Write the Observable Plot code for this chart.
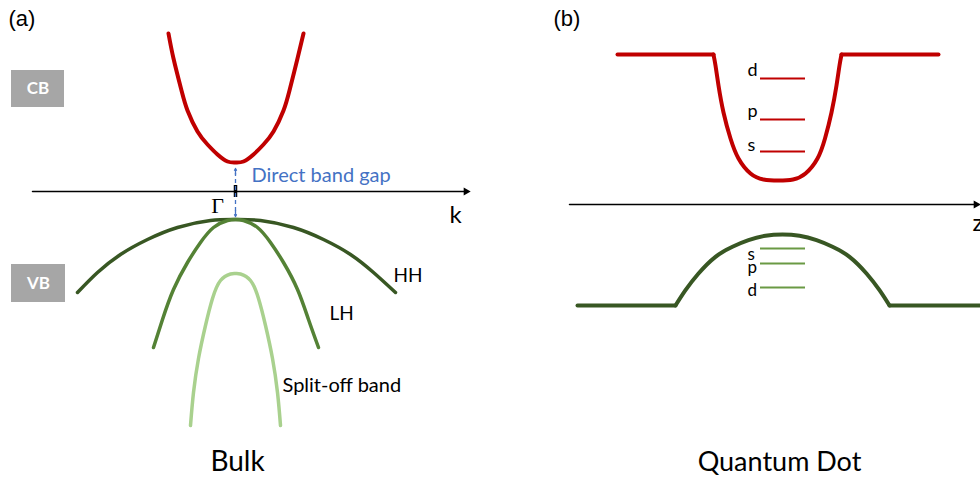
<!DOCTYPE html>
<html><head><meta charset="utf-8">
<script src="https://cdn.jsdelivr.net/npm/d3@7"></script>
<script src="https://cdn.jsdelivr.net/npm/@observablehq/plot@0.6"></script>
<style>
html,body{margin:0;padding:0;background:#fff;}
#wrap{display:flex;width:980px;height:478px;overflow:hidden;}
#wrap svg{display:block;flex:none;}
</style></head><body><div id="wrap"></div>
<script>
// ---------- Panel (a): Bulk band structure (k in arbitrary units, E in arbitrary units) ----------
const cbK = [-6.7,-6.2,-5.4,-4.8,-3.8,-2.8,-1.8,-0.8,0,0.8,1.8,2.8,3.8,4.8,5.4,6.2,6.8];
const cbE = [15.8,13.3,10.1,8.1,6.0,4.7,3.7,3.0,2.9,3.0,3.7,4.7,6.0,8.1,10.1,13.3,15.8];
const hhK = [-15.8,-13.8,-11.5,-8.8,-5.8,-2.5,0,2.5,5.8,8.8,11.5,13.8,16.0];
const hhE = [-10.1,-8.1,-6.3,-4.8,-3.6,-2.9,-2.8,-2.9,-3.6,-4.8,-6.3,-8.1,-10.1];
const lhK = [-8.2,-7.3,-6.2,-4.8,-3.5,-2.2,-0.8,0,0.8,2.2,3.5,4.8,6.2,7.3,8.3];
const lhE = [-15.6,-12.8,-9.8,-7.1,-5.1,-3.6,-2.9,-2.8,-2.9,-3.6,-5.1,-7.1,-9.8,-12.8,-15.6];
const soK = [-4.5,-4.2,-3.7,-3.0,-2.3,-1.5,-0.5,0,0.5,1.5,2.3,3.0,3.7,4.2,4.5];
const soE = [-23.4,-20.1,-16.7,-13.4,-10.7,-8.9,-8.25,-8.2,-8.25,-8.9,-10.7,-13.4,-16.7,-20.1,-23.4];
const bandNames = ["CB","HH","LH","Split-off"];
const bandColors = ["#c00000","#385723","#548235","#a9d18e"];
const bandWidths = [4,3.5,3.5,3.5];
const gapTop = 2.3, gapBottom = -2.5;          // direct band gap arrow ends
const kAxis = [-20.3, 23.5];                    // k axis extent
const aLabels = ["HH","LH","Split-off band"];
const aLabelK = [15.8, 9.4, 4.7];
const aLabelE = [-8.4, -12.2, -19.4];
const aLabelSize = [19, 19, 20];
const aBoxes = ["CB","VB"];
const aBoxK1 = [-22.4,-22.4], aBoxK2 = [-17.1,-17.0];
const aBoxE1 = [8.4,-11.1], aBoxE2 = [12.1,-7.3];

// ---------- Panel (b): Quantum dot (z position, E) ----------
const qcbFlatL = [[-16.1,15.0],[-6.5,15.0]];
const qcbFlatR = [[6.3,15.0],[16.0,15.0]];
const qcbZ = [-6.5,-6.3,-6.0,-5.5,-4.8,-4.0,-2.8,-1.5,0,1.45,2.7,3.9,4.65,5.3,5.8,6.1,6.3];
const qcbE = [15.0,13.9,11.9,9.2,6.6,4.6,3.1,2.5,2.4,2.5,3.1,4.6,6.6,9.2,11.9,13.9,15.0];
const qvbFlatL = [[-20.1,-10.1],[-10.3,-10.1]];
const qvbFlatR = [[11.1,-10.1],[20.5,-10.1]];
const qvbZ = [-10.3,-9.3,-8.0,-6.3,-4.6,-3.0,-1.3,0.4,2.1,3.8,5.4,7.1,8.8,10.1,11.1];
const qvbE = [-10.1,-8.57,-6.9,-5.23,-4.23,-3.57,-3.13,-3.0,-3.13,-3.57,-4.23,-5.23,-6.9,-8.57,-10.1];
const levelNames = ["d","p","s"];
const cbLevelE = [12.6, 8.5, 5.3];
const cbLabelE = [13.4, 9.3, 5.9];
const vbLevelE = [-8.3, -5.9, -4.4];
const vbLabelE = [-8.6, -6.3, -5.0];
const levelZ = [-1.8, 2.7];
const labelZ = -3.1;
const zAxis = [-20.9, 20.2];

const FONT = "Lato";
const CURVE = "natural";
const zip = (xs, ys) => xs.map((x, i) => ({x, y: ys[i]}));
const pairs = (arr) => arr.map(([x, y]) => ({x, y}));

// ---------- Build panel (a) ----------
const bandData = [zip(cbK,cbE), zip(hhK,hhE), zip(lhK,lhE), zip(soK,soE)];
const boxRows = aBoxes.map((n,i)=>({n, x1:aBoxK1[i], x2:aBoxK2[i], y1:aBoxE1[i], y2:aBoxE2[i]}));
const plotA = Plot.plot({
  width: 490, height: 478, margin: 0,
  x: {domain: [-23.5, 25.5], axis: null},
  y: {domain: [-28.7, 19.1], axis: null},
  marks: [
    Plot.rect(boxRows, {x1:"x1", x2:"x2", y1:"y1", y2:"y2", fill:"#a6a6a6"}),
    Plot.text(boxRows, {x: d=>(d.x1+d.x2)/2, y: d=>(d.y1+d.y2)/2, text:"n", fill:"white", fontWeight:"bold", fontSize:17, fontFamily:FONT}),
    Plot.line([{x:kAxis[0],y:0},{x:kAxis[1]-0.5,y:0}], {x:"x", y:"y", stroke:"black", strokeWidth:1.5}),
    Plot.dot([{x:kAxis[1]-0.45,y:0}], {x:"x", y:"y", symbol:"triangle", rotate:90, r:3, fill:"black", stroke:"none"}),
    Plot.ruleX([0], {y1:-0.6, y2:0.6, stroke:"black", strokeWidth:3.5}),
    ...bandData.map((d,i)=>Plot.line(d, {x:"x", y:"y", stroke:bandColors[i], strokeWidth:bandWidths[i], curve:CURVE})),
    Plot.ruleX([0], {y1:gapBottom+0.5, y2:gapTop-0.5, stroke:"#4472c4", strokeWidth:1.3, strokeDasharray:"4,3"}),
    Plot.arrow([{y1:gapTop-0.6,y2:gapTop},{y1:gapBottom+0.6,y2:gapBottom}], {x1:0, x2:0, y1:"y1", y2:"y2", stroke:"#4472c4", strokeWidth:1.3, headLength:8}),
    Plot.text(["Direct band gap"], {x:1.6, y:1.6, text:d=>d, textAnchor:"start", fill:"#4472c4", fontSize:20, fontFamily:FONT}),
    Plot.text(["Γ"], {x:-1.8, y:-1.4, text:d=>d, fontSize:22, fontFamily:"Liberation Serif"}),
    Plot.text(["k"], {x:22.0, y:-2.4, text:d=>d, fontSize:24, fontFamily:FONT}),
    Plot.text(aLabels, {x:(d,i)=>aLabelK[i], y:(d,i)=>aLabelE[i], text:d=>d, textAnchor:"start", fontSize:(d,i)=>aLabelSize[i], fontFamily:FONT}),
    Plot.text(["(a)"], {x:-22.7, y:17.3, text:d=>d, textAnchor:"start", fontSize:22, fontFamily:"Liberation Sans"}),
    Plot.text(["Bulk"], {x:0.2, y:-27.1, text:d=>d, fontSize:28, fontFamily:FONT})
  ]
});

// ---------- Build panel (b) ----------
const cbLevels = levelNames.map((n,i)=>({n, e:cbLevelE[i], le:cbLabelE[i]}));
const vbLevels = levelNames.map((n,i)=>({n, e:vbLevelE[i], le:vbLabelE[i]}));
const plotB = Plot.plot({
  width: 490, height: 478, margin: 0,
  x: {domain: [-28.8, 20.2], axis: null},
  y: {domain: [-27.4, 20.4], axis: null},
  marks: [
    Plot.line([{x:zAxis[0],y:0},{x:zAxis[1]-0.5,y:0}], {x:"x", y:"y", stroke:"black", strokeWidth:1.5}),
    Plot.dot([{x:zAxis[1]-0.45,y:0}], {x:"x", y:"y", symbol:"triangle", rotate:90, r:3, fill:"black", stroke:"none"}),
    Plot.line(pairs(qcbFlatL), {x:"x", y:"y", stroke:"#c00000", strokeWidth:4}),
    Plot.line(pairs(qcbFlatR), {x:"x", y:"y", stroke:"#c00000", strokeWidth:4}),
    Plot.line(zip(qcbZ,qcbE), {x:"x", y:"y", stroke:"#c00000", strokeWidth:4, curve:CURVE}),
    Plot.line(pairs(qvbFlatL), {x:"x", y:"y", stroke:"#385723", strokeWidth:4}),
    Plot.line(pairs(qvbFlatR), {x:"x", y:"y", stroke:"#385723", strokeWidth:4}),
    Plot.line(zip(qvbZ,qvbE), {x:"x", y:"y", stroke:"#385723", strokeWidth:4, curve:CURVE}),
    Plot.ruleY(cbLevels, {y:"e", x1:levelZ[0], x2:levelZ[1], stroke:"#c00000", strokeWidth:2}),
    Plot.ruleY(vbLevels, {y:"e", x1:levelZ[0], x2:levelZ[1], stroke:"#6a9a44", strokeWidth:2}),
    Plot.text(cbLevels, {x:labelZ, y:"le", text:"n", textAnchor:"start", fontSize:18, fontFamily:FONT}),
    Plot.text(vbLevels, {x:labelZ, y:"le", text:"n", textAnchor:"start", fontSize:17, fontFamily:FONT}),
    Plot.text(["z"], {x:19.4, y:-1.9, text:d=>d, textAnchor:"start", fontSize:24, fontFamily:FONT}),
    Plot.text(["(b)"], {x:-22.5, y:18.6, text:d=>d, textAnchor:"start", fontSize:22, fontFamily:"Liberation Sans"}),
    Plot.text(["Quantum Dot"], {x:0.1, y:-25.8, text:d=>d, fontSize:27, fontFamily:FONT})
  ]
});
const wrap = document.getElementById("wrap");
wrap.appendChild(plotA);
wrap.appendChild(plotB);
</script></body></html>
